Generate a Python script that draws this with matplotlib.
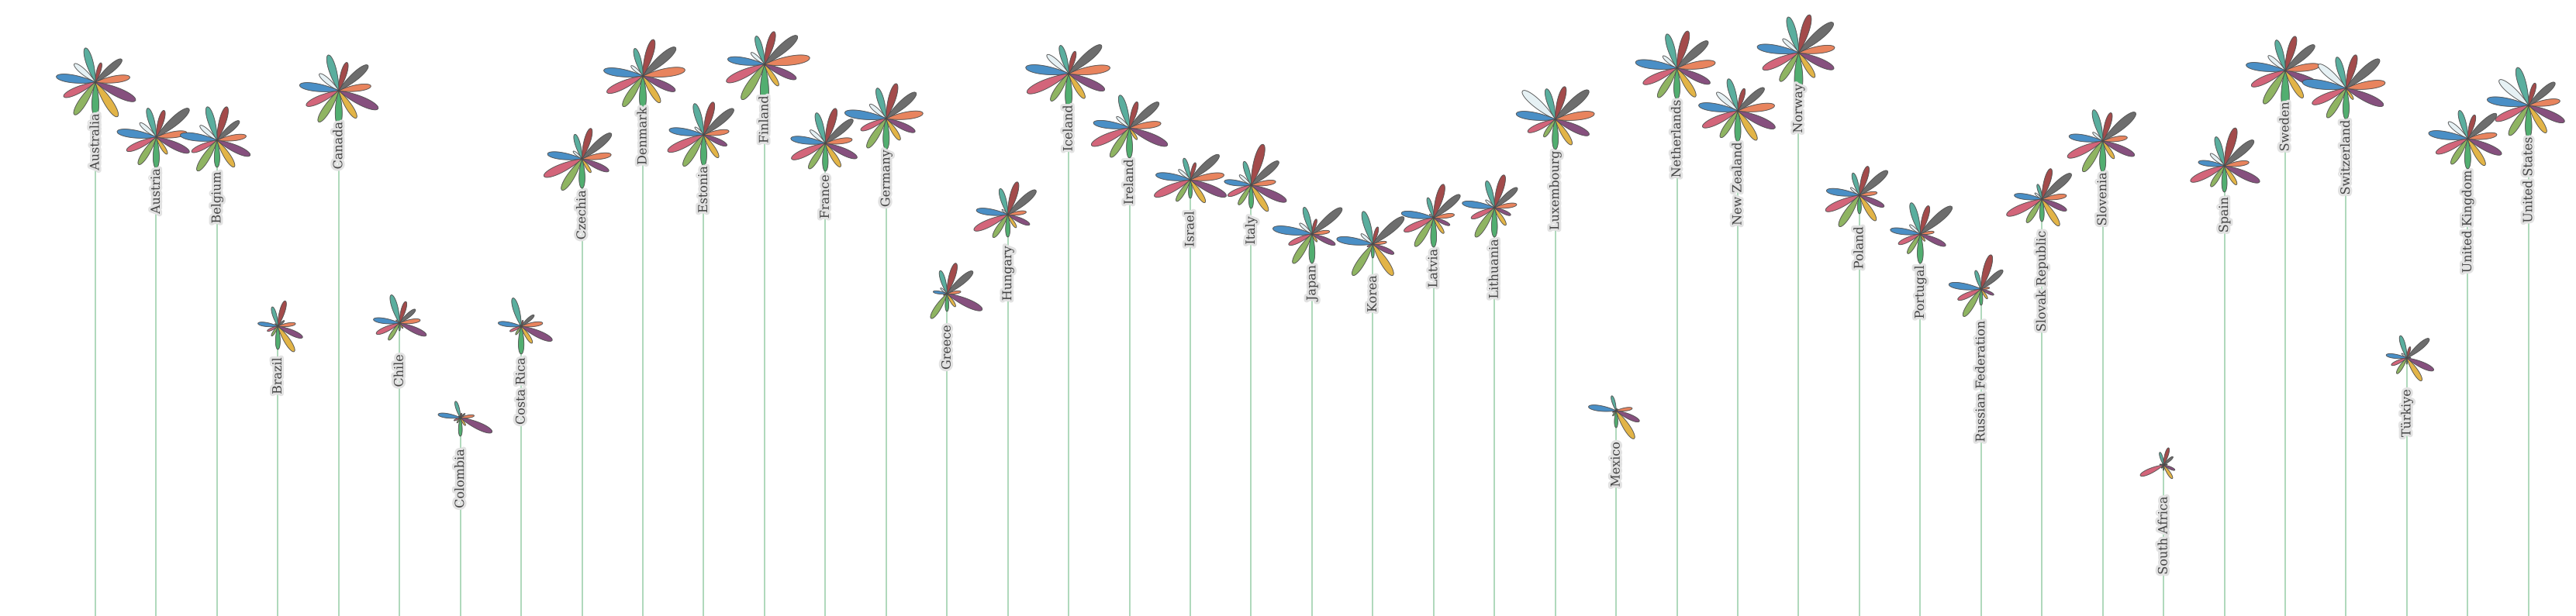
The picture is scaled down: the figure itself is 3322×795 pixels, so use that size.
import numpy as np
import matplotlib
matplotlib.use("Agg")
import matplotlib.pyplot as plt
from matplotlib.path import Path
from matplotlib.patches import PathPatch
from matplotlib.transforms import Affine2D, offset_copy
import matplotlib.patheffects as pe

# countries, left to right
countries = ["Australia", "Austria", "Belgium", "Brazil", "Canada", "Chile", "Colombia",
             "Costa Rica", "Czechia", "Denmark", "Estonia", "Finland", "France", "Germany",
             "Greece", "Hungary", "Iceland", "Ireland", "Israel", "Italy", "Japan", "Korea",
             "Latvia", "Lithuania", "Luxembourg", "Mexico", "Netherlands", "New Zealand",
             "Norway", "Poland", "Portugal", "Russian Federation", "Slovak Republic",
             "Slovenia", "South Africa", "Spain", "Sweden", "Switzerland", "Türkiye",
             "United Kingdom", "United States"]

# overall score -> stem height
stem = [689, 618, 614, 374, 678, 378, 256, 374, 590, 697, 621, 712, 610, 642, 416, 518,
        700, 630, 563, 556, 493, 480, 514, 527, 641, 265, 707, 652, 727, 543, 493, 422,
        538, 613, 195, 581, 704, 681, 333, 616, 659]

# petal values (one list per petal, going round from the bottom petal counter-clockwise)
green = [45, 40, 35, 30, 45, 10, 24, 36, 38, 44, 40, 55, 36, 40, 23, 29, 44, 39, 24, 30, 38,
         18, 38, 38, 39, 22, 40, 40, 54, 24, 38, 21, 29, 40, 7, 34, 52, 40, 8, 39, 42]
yellow = [53, 26, 41, 39, 42, 8, 12, 26, 21, 41, 35, 33, 36, 33, 20, 20, 38, 18, 35, 40, 12,
          48, 24, 27, 39, 43, 44, 45, 38, 39, 11, 15, 41, 27, 21, 29, 42, 17, 35, 41, 42]
purple = [57, 47, 47, 35, 56, 38, 45, 44, 38, 46, 33, 45, 45, 41, 50, 31, 51, 54, 51, 50, 33,
          30, 23, 23, 48, 33, 47, 53, 50, 35, 36, 18, 35, 45, 16, 50, 51, 53, 38, 48, 51]
orange = [45, 40, 38, 23, 42, 27, 18, 28, 38, 55, 33, 59, 35, 48, 18, 24, 54, 41, 44, 32, 23,
          18, 27, 29, 51, 21, 50, 48, 47, 23, 18, 11, 32, 32, 5, 32, 45, 51, 5, 38, 41]
gray = [45, 56, 38, 11, 50, 27, 8, 22, 50, 56, 51, 56, 47, 51, 44, 48, 56, 50, 49, 47, 51,
        53, 45, 39, 57, 3, 53, 45, 59, 48, 54, 37, 50, 56, 16, 50, 50, 57, 38, 49, 45]
darkred = [26, 36, 45, 34, 38, 29, 6, 8, 41, 49, 44, 44, 47, 47, 41, 44, 30, 35, 23, 55, 20,
           23, 45, 44, 44, 3, 50, 30, 51, 39, 38, 46, 41, 38, 23, 51, 46, 45, 15, 32, 30]
teal = [46, 39, 45, 26, 48, 38, 22, 38, 33, 37, 42, 38, 41, 41, 31, 35, 38, 44, 29, 32, 36,
        44, 27, 36, 41, 20, 46, 43, 48, 30, 42, 25, 20, 42, 17, 39, 41, 42, 30, 38, 51]
white = [36, 28, 29, 5, 33, 6, 3, 3, 15, 20, 15, 23, 26, 28, 11, 10, 37, 22, 20, 20, 21,
         20, 7, 15, 56, 1, 24, 36, 27, 15, 18, 3, 12, 17, 2, 24, 29, 47, 9, 33, 50]
blue = [51, 51, 48, 26, 51, 34, 29, 30, 45, 51, 45, 48, 45, 54, 18, 41, 56, 47, 45, 35, 51,
        47, 42, 42, 51, 36, 54, 51, 54, 43, 39, 42, 36, 44, 5, 34, 51, 57, 27, 51, 54]
pink = [45, 42, 36, 15, 46, 33, 9, 16, 54, 51, 51, 54, 48, 36, 5, 48, 59, 54, 51, 33, 33,
        8, 42, 33, 39, 5, 48, 50, 51, 48, 31, 33, 50, 50, 33, 48, 48, 48, 22, 45, 47]
olive = [50, 42, 47, 15, 48, 26, 8, 13, 48, 47, 48, 54, 39, 45, 38, 35, 42, 45, 33, 30, 45,
         48, 44, 45, 27, 8, 45, 41, 44, 48, 30, 42, 36, 47, 5, 32, 51, 45, 24, 39, 46]

petals = [green, yellow, purple, orange, gray, darkred, teal, white, blue, pink, olive]
petal_colors = ["#52ae70", "#e2b447", "#86507e", "#e8845e", "#6d6d6d", "#a34b4b",
                "#5aae9e", "#e6f1f4", "#4a8fc6", "#d3657a", "#8fb462"]

# leaf shaped petal along +x, length 1
t = np.linspace(0, 1, 60)
hw = 0.249 * t ** 0.9 * (1 - t) ** 0.5
verts = np.concatenate([np.column_stack([t, hw]), np.column_stack([t[::-1], -hw[::-1]])])
petal_path = Path(np.vstack([verts, verts[:1]]), closed=True)

fig = plt.figure(figsize=(33.22, 7.95), dpi=100)
ax = fig.add_axes([0, 0, 1, 1])
ax.set_xlim(-1.568, 40.78)
ax.set_ylim(0, 795)
ax.axis("off")

idx = np.arange(len(countries))
ax.vlines(idx, 0, stem, color="#a8d6b5", lw=1.3, zorder=1)

n = len(petals)
for i, name in enumerate(countries):
    cx, cy = ax.transData.transform((i, stem[i]))
    for k in range(n):
        L = petals[k][i]
        if L <= 0:
            continue
        ang = 270 + k * 360.0 / n
        tr = Affine2D().scale(L).rotate_deg(ang).translate(cx, cy)
        ax.add_patch(PathPatch(petal_path, transform=tr, facecolor=petal_colors[k],
                               edgecolor="#4a4a4a", lw=0.6, zorder=2))

for i, name in enumerate(countries):
    lab_tr = offset_copy(ax.transData, fig=fig, y=-40, units="dots")
    ax.text(i, stem[i], name, transform=lab_tr, rotation=90, ha="center", va="top",
            fontsize=11.5, family="DejaVu Serif", color="#444444", zorder=5,
            path_effects=[pe.withStroke(linewidth=4.5, foreground="#e2e2e2")])

fig.savefig("out.png", dpi=100, facecolor="white")
